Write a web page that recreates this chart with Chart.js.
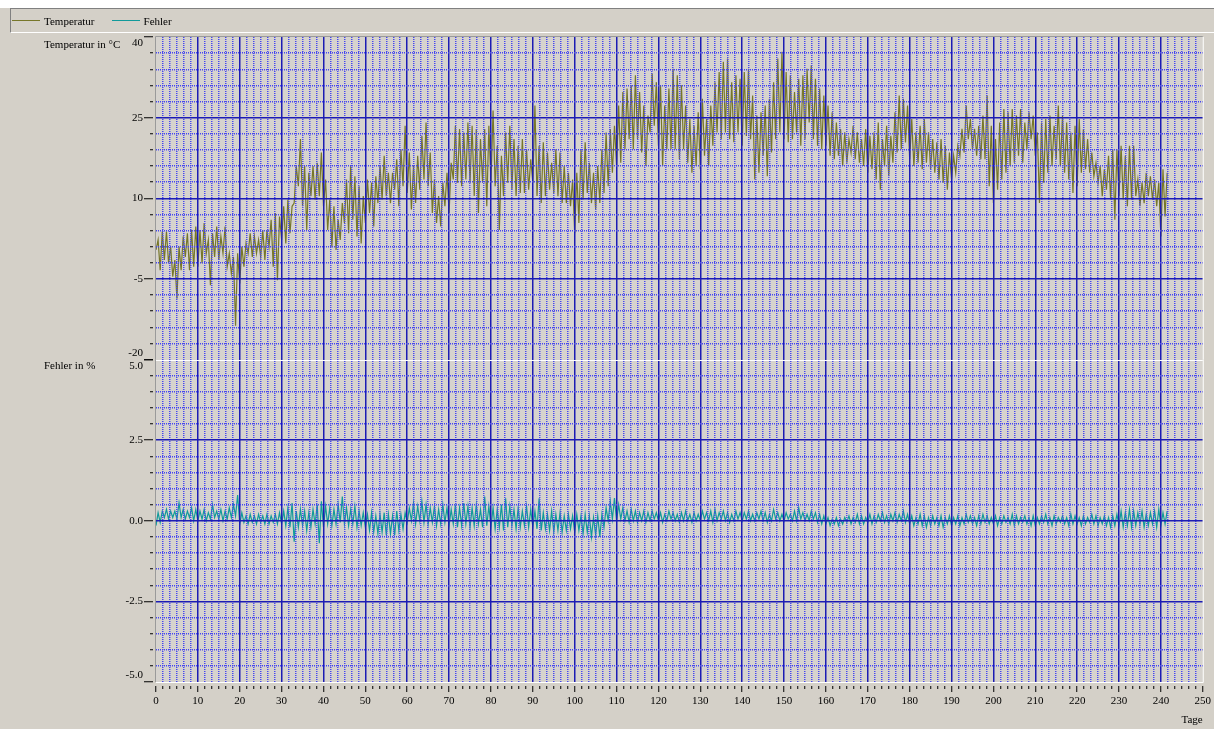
<!DOCTYPE html>
<html>
<head>
<meta charset="utf-8">
<script src="https://cdn.jsdelivr.net/npm/chart.js@4.4.1/dist/chart.umd.min.js"></script>
<style>
  body { margin: 0; background: #d4d0c8; }
  #wrap { position: relative; width: 1214px; height: 729px; overflow: hidden; }
  #c { position: absolute; left: 0; top: 0; }
  #legende {
    position: absolute; left: 10px; top: 8px; width: 1203px; height: 23px;
    border-style: solid; border-width: 1px; border-color: #808080 #ffffff #ffffff #808080;
    font: 11px "Liberation Serif", "Times New Roman", serif; color: #000;
    display: flex; align-items: center;
  }
  .eintrag { display: flex; align-items: center; margin-left: 1px; margin-right: 16px; }
  .strich { width: 28px; height: 1px; margin-right: 4px; }
</style>
</head>
<body>
<div id="wrap">
  <canvas id="c" width="1214" height="729"></canvas>
  <div id="legende"></div>
</div>
<script>
// Tagesgrenzen der Temperatur (Tiefst- und Hoechstwert je Tag), Tage 0..241
var tempTief = [
  0.4, -3.4, -1.5, -2.1, -4.6, -8.7, -3.4, -0.9, -3.4, -2.75,
  -2.75, -2.1, -0.25, -6.2, -0.9, -1.5, -0.25, -2.75, -4.0, -13.7,
  -5.9, -2.75, -0.25, -0.9, -0.25, -0.9, -1.5, 1.0, -2.75, -5.25,
  2.25, 1.6, 3.5, 9.1, 12.25, 8.5, 4.1, 10.4, 9.75, 10.4,
  8.5, 4.1, 1.0, 0.4, 2.25, 5.4, 3.5, 6.0, 2.9, 1.6,
  5.4, 7.25, 4.75, 9.1, 9.75, 10.4, 9.1, 11.6, 8.5, 12.25,
  11.0, 7.9, 9.1, 11.6, 13.5, 12.25, 7.25, 5.4, 4.75, 8.5,
  7.25, 13.5, 12.9, 12.25, 13.5, 12.9, 10.4, 7.25, 12.9, 8.5,
  12.9, 12.25, 4.1, 10.4, 12.9, 11.6, 10.4, 11.0, 11.0, 11.6,
  12.9, 10.4, 9.1, 10.4, 11.6, 11.0, 10.4, 9.1, 9.1, 8.5,
  3.5, 5.4, 9.75, 11.0, 9.1, 7.9, 9.1, 11.0, 12.25, 14.75,
  16.0, 16.6, 19.1, 21.0, 19.1, 21.0, 18.5, 16.0, 22.25, 23.5,
  19.75, 16.0, 19.1, 19.1, 19.1, 17.25, 19.1, 16.6, 14.75, 16.0,
  15.4, 17.9, 16.0, 19.75, 22.25, 21.0, 22.25, 21.0, 20.4, 22.25,
  19.75, 21.6, 21.0, 13.5, 14.75, 17.9, 14.1, 18.5, 21.0, 22.25,
  21.0, 20.4, 21.0, 22.25, 19.75, 21.0, 24.1, 21.0, 19.75, 19.1,
  19.75, 17.9, 17.25, 17.9, 16.0, 16.6, 18.5, 17.25, 16.6, 16.0,
  14.75, 15.4, 13.5, 11.6, 16.0, 14.1, 16.6, 18.5, 19.1, 20.4,
  17.25, 16.0, 16.6, 15.4, 16.6, 15.4, 14.75, 13.5, 12.9, 11.6,
  13.5, 14.75, 17.9, 18.5, 21.0, 19.1, 17.9, 17.25, 17.25, 12.25,
  9.1, 11.6, 13.5, 14.75, 16.0, 16.6, 17.9, 16.6, 19.1, 21.0,
  17.9, 9.1, 12.9, 14.75, 16.0, 17.25, 16.0, 14.75, 13.5, 11.0,
  12.25, 14.75, 15.4, 14.75, 14.1, 12.9, 10.4, 11.6, 9.75, 6.0,
  10.4, 9.75, 8.5, 9.75, 10.4, 8.5, 9.1, 10.4, 9.75, 8.5,
  2.9, 6.6
];
var tempHoch = [
  2.25, 3.8, 3.8, 1.0, -1.5, 1.0, 2.9, 3.5, 4.1, 4.75,
  4.1, 5.4, 2.25, 3.5, 4.75, 2.9, 4.75, -0.25, -0.9, -0.25,
  1.0, 1.6, 3.5, 2.9, 2.25, 4.1, 4.1, 6.0, 7.25, 6.6,
  8.5, 9.75, 8.5, 16.0, 21.0, 16.0, 14.75, 16.0, 16.6, 18.5,
  13.5, 9.75, 8.5, 6.0, 9.1, 13.5, 16.0, 14.1, 12.25, 10.4,
  13.5, 12.9, 14.1, 16.0, 17.9, 14.75, 14.75, 17.25, 19.1, 23.5,
  18.5, 16.0, 17.9, 21.6, 24.1, 18.5, 13.5, 10.4, 12.9, 14.75,
  16.6, 23.5, 22.9, 22.25, 24.1, 23.5, 22.9, 21.0, 22.9, 23.5,
  26.3, 19.75, 17.9, 22.25, 23.5, 21.0, 19.75, 21.0, 19.1, 17.25,
  27.25, 19.75, 20.4, 18.5, 16.6, 19.1, 18.5, 16.0, 14.75, 13.5,
  14.75, 19.1, 20.4, 16.6, 14.75, 16.0, 19.1, 22.25, 22.9, 23.5,
  27.25, 29.75, 30.4, 31.0, 32.9, 29.75, 27.25, 25.4, 33.2, 31.6,
  31.0, 27.25, 30.4, 34.1, 32.9, 31.0, 27.25, 24.75, 23.5, 26.0,
  28.5, 24.75, 27.25, 31.6, 33.5, 35.4, 36.0, 31.6, 32.9, 32.25,
  33.5, 34.1, 29.1, 25.4, 26.0, 27.25, 28.5, 31.6, 36.0, 37.25,
  33.5, 32.9, 29.75, 32.25, 32.9, 34.1, 34.75, 32.25, 30.4, 29.1,
  27.25, 26.0, 24.1, 22.9, 22.25, 21.0, 23.5, 22.25, 21.0, 22.9,
  21.6, 22.25, 24.1, 21.0, 23.5, 21.6, 26.0, 29.1, 28.5, 27.25,
  24.75, 22.25, 23.5, 24.75, 22.25, 21.0, 20.4, 21.0, 19.75, 18.5,
  17.9, 19.75, 22.9, 27.25, 24.75, 22.9, 23.5, 25.4, 29.1, 23.5,
  21.0, 24.1, 26.6, 26.0, 26.6, 25.4, 26.6, 24.1, 26.0, 25.4,
  22.25, 24.1, 24.75, 25.4, 23.5, 27.25, 25.4, 24.1, 22.25, 23.5,
  24.75, 22.9, 21.0, 18.5, 16.6, 16.0, 15.4, 17.9, 19.1, 19.1,
  19.75, 17.9, 19.75, 19.75, 13.5, 12.9, 14.75, 14.1, 13.5, 12.9,
  15.4, 14.75
];
// Fehler in % (Tiefst- und Hoechstwert je Tag, geschaetzt)
var fehlerTief = [
  -0.15, -0.05, 0.1, 0.05, 0.1, 0.05, 0.1, 0.05, 0.1, 0.0,
  0.0, 0.05, 0.0, 0.05, 0.1, 0.05, 0.0, 0.05, 0.1, 0.15,
  -0.1, -0.05, -0.1, -0.05, -0.1, -0.05, -0.1, -0.1, -0.05, -0.1,
  -0.1, -0.15, -0.2, -0.65, -0.2, -0.15, -0.3, -0.2, -0.1, -0.7,
  -0.2, -0.1, -0.15, -0.1, -0.05, -0.1, -0.15, -0.1, -0.2, -0.15,
  -0.2, -0.3, -0.35, -0.4, -0.35, -0.45, -0.4, -0.45, -0.3, -0.25,
  -0.05, 0.0, -0.1, 0.0, -0.05, -0.1, -0.05, -0.15, -0.1, -0.05,
  -0.15, -0.1, -0.2, -0.15, -0.1, -0.2, -0.15, -0.1, -0.2, -0.15,
  -0.2, -0.25, -0.2, -0.3, -0.2, -0.15, -0.25, -0.2, -0.15, -0.2,
  -0.2, -0.25, -0.3, -0.25, -0.3, -0.35, -0.3, -0.35, -0.3, -0.25,
  -0.35, -0.3, -0.4, -0.35, -0.5, -0.45, -0.5, -0.2, 0.0, 0.05,
  0.0, 0.05, 0.0, -0.05, 0.0, -0.05, 0.0, -0.05, 0.0, 0.05,
  0.0, -0.05, 0.0, 0.05, 0.0, -0.05, 0.0, 0.0, -0.05, 0.0,
  0.0, 0.05, 0.0, -0.05, 0.0, 0.05, 0.0, -0.05, 0.0, 0.05,
  0.0, 0.05, 0.0, 0.0, 0.05, 0.0, -0.05, 0.0, 0.05, 0.0,
  0.0, 0.05, 0.0, 0.0, 0.05, 0.0, 0.0, 0.05, -0.05, -0.1,
  -0.1, -0.15, -0.1, -0.15, -0.1, -0.05, -0.1, -0.05, -0.1, -0.1,
  -0.05, -0.1, -0.05, 0.0, -0.05, -0.1, 0.0, -0.05, 0.0, -0.05,
  -0.1, -0.15, -0.1, -0.15, -0.2, -0.15, -0.1, -0.15, -0.2, -0.1,
  -0.15, -0.1, -0.15, -0.1, -0.05, -0.1, -0.15, -0.1, -0.05, -0.1,
  -0.1, -0.15, -0.1, -0.05, -0.1, -0.15, -0.1, -0.05, -0.1, -0.15,
  -0.15, -0.1, -0.05, -0.1, -0.15, -0.1, -0.05, -0.1, -0.15, -0.1,
  -0.1, -0.15, -0.1, -0.05, -0.1, -0.15, -0.1, -0.15, -0.2, -0.15,
  -0.15, -0.2, -0.15, -0.2, -0.15, -0.1, -0.2, -0.15, -0.1, -0.2,
  -0.15, -0.1
];
var fehlerHoch = [
  0.25, 0.3, 0.35, 0.3, 0.3, 0.55, 0.35, 0.3, 0.4, 0.35,
  0.3, 0.35, 0.25, 0.5, 0.3, 0.35, 0.3, 0.4, 0.5, 0.8,
  0.25, 0.15, 0.2, 0.15, 0.2, 0.15, 0.2, 0.15, 0.2, 0.25,
  0.3, 0.4, 0.55, 0.3, 0.35, 0.3, 0.25, 0.35, 0.5, 0.6,
  0.45, 0.4, 0.35, 0.5, 0.75, 0.4, 0.35, 0.45, 0.3, 0.25,
  0.2, 0.25, 0.15, 0.2, 0.25, 0.2, 0.15, 0.3, 0.2, 0.25,
  0.4, 0.55, 0.45, 0.6, 0.5, 0.4, 0.45, 0.35, 0.5, 0.4,
  0.35, 0.5, 0.4, 0.55, 0.45, 0.4, 0.5, 0.35, 0.75, 0.45,
  0.4, 0.35, 0.5, 0.7, 0.45, 0.35, 0.4, 0.3, 0.45, 0.35,
  0.3, 0.7, 0.25, 0.2, 0.3, 0.2, 0.25, 0.15, 0.2, 0.15,
  0.2, 0.15, 0.2, 0.15, 0.1, 0.15, 0.2, 0.4, 0.6, 0.7,
  0.5, 0.4, 0.3, 0.35, 0.3, 0.25, 0.3, 0.25, 0.3, 0.25,
  0.25, 0.2, 0.3, 0.25, 0.2, 0.25, 0.3, 0.2, 0.25, 0.2,
  0.3, 0.25, 0.3, 0.35, 0.25, 0.3, 0.25, 0.2, 0.3, 0.25,
  0.25, 0.3, 0.2, 0.25, 0.3, 0.25, 0.2, 0.35, 0.25, 0.2,
  0.25, 0.2, 0.3, 0.4, 0.25, 0.2, 0.3, 0.25, 0.2, 0.15,
  0.1, 0.05, 0.1, 0.05, 0.1, 0.15, 0.1, 0.2, 0.15, 0.1,
  0.2, 0.15, 0.2, 0.25, 0.15, 0.2, 0.25, 0.2, 0.3, 0.2,
  0.15, 0.1, 0.2, 0.15, 0.1, 0.15, 0.1, 0.15, 0.1, 0.15,
  0.1, 0.15, 0.1, 0.2, 0.15, 0.1, 0.15, 0.2, 0.15, 0.1,
  0.15, 0.1, 0.15, 0.1, 0.2, 0.15, 0.1, 0.15, 0.1, 0.15,
  0.1, 0.15, 0.2, 0.1, 0.15, 0.1, 0.15, 0.1, 0.2, 0.15,
  0.1, 0.15, 0.1, 0.2, 0.15, 0.1, 0.15, 0.1, 0.15, 0.2,
  0.3, 0.25, 0.35, 0.3, 0.25, 0.3, 0.2, 0.25, 0.3, 0.35,
  0.25, 0.3
];

// Achsen: Beschriftungen und Unterteilungen
var tageBeschriftung = [0, 10, 20, 30, 40, 50, 60, 70, 80, 90, 100, 110, 120, 130, 140, 150, 160, 170, 180, 190, 200, 210, 220, 230, 240, 250];
var tageUnterteilung = 6;      // Hilfslinien je 10 Tage
var tempBeschriftung = [-20, -5, 10, 25, 40];
var tempSchritt = 3;
var fehlerBeschriftung = [-5.0, -2.5, 0.0, 2.5, 5.0];
var fehlerSchritt = 0.5;

var farbeTemp = "#77772a";
var farbeFehler = "#129a9a";
var farbeHaupt = "#1c1cb4";
var farbeHilf = "#4646f0";
var hintergrund = "#d4d0c8";

function istBeschriftet(v, liste) {
    return liste.some(function (w) { return Math.abs(w - v) < 1e-6; });
}

function zickzack(tief, hoch) {
    var punkte = [];
    for (var i = 0; i < tief.length; i++) {
        punkte.push({ x: i, y: tief[i] });
        punkte.push({ x: i + 0.5, y: hoch[i] });
    }
    return punkte;
}

// x-Ticks: zwischen den beschrifteten Tagen gleichmaessig unterteilt
var tageTicks = [];
for (var k = 0; k < tageBeschriftung.length - 1; k++) {
    for (var j = 0; j < tageUnterteilung; j++) {
        var a = tageBeschriftung[k], b = tageBeschriftung[k + 1];
        tageTicks.push(a + (b - a) * j / tageUnterteilung);
    }
}
tageTicks.push(tageBeschriftung[tageBeschriftung.length - 1]);

function gitterFarbe(liste) {
    return function (ctx) {
        if (!ctx.tick) return farbeHaupt;
        var v = ctx.tick.value, s = ctx.scale;
        if (Math.abs(v - s.min) < 1e-6 || Math.abs(v - s.max) < 1e-6) return "rgba(0,0,0,0)";
        return istBeschriftet(v, liste) ? farbeHaupt : farbeHilf;
    };
}
function gitterBreite(ctx) {
    return 1.5;
}
function gitterStrich(liste) {
    return function (ctx) {
        if (!ctx.tick) return [];
        return istBeschriftet(ctx.tick.value, liste) ? [] : [1, 1];
    };
}
function yStrich(liste) {
    return function (ctx) {
        return istBeschriftet(ctx.tick.value, liste) ? [9, 100] : [0, 6, 3, 100];
    };
}

Chart.defaults.font.family = "'Liberation Serif', 'Times New Roman', serif";
Chart.defaults.font.size = 11;
Chart.defaults.color = "#000";

// Hintergrund, Rahmen und Achsentitel
var rahmen = {
    id: "rahmen",
    beforeDraw: function (chart) {
        var c = chart.ctx, a = chart.chartArea;
        c.save();
        c.fillStyle = hintergrund;
        c.fillRect(0, 0, chart.width, chart.height);
        c.fillStyle = "#ffffff";
        c.fillRect(0, 0, chart.width, 8);
        c.fillStyle = "#d6d3ce";
        c.fillRect(a.left, a.top, a.right - a.left, a.bottom - a.top);
        c.restore();
    },
    afterDraw: function (chart) {
        var c = chart.ctx, a = chart.chartArea;
        var yT = chart.scales.yT, yF = chart.scales.yF;
        c.save();
        c.lineWidth = 1;
        c.strokeStyle = "#9a9a9a";
        c.beginPath();
        c.moveTo(a.left - 0.5, a.bottom);
        c.lineTo(a.left - 0.5, a.top - 0.5);
        c.lineTo(a.right, a.top - 0.5);
        c.stroke();
        c.strokeStyle = "#ffffff";
        c.beginPath();
        c.moveTo(a.right + 0.5, a.top);
        c.lineTo(a.right + 0.5, a.bottom + 0.5);
        c.lineTo(a.left, a.bottom + 0.5);
        c.moveTo(a.left, Math.round(yT.bottom) + 0.5);
        c.lineTo(a.right, Math.round(yT.bottom) + 0.5);
        c.stroke();
        c.fillStyle = "#000";
        c.font = "11px 'Liberation Serif', 'Times New Roman', serif";
        c.textBaseline = "middle";
        c.textAlign = "left";
        c.fillText("Temperatur in \u00B0C", 44, yT.top + 8);
        c.fillText("Fehler in %", 44, yF.top + 7);
        c.restore();
    }
};

var ctx = document.getElementById("c").getContext("2d");
var chart = new Chart(ctx, {
    type: "line",
    data: {
        datasets: [{
            label: "Temperatur",
            data: zickzack(tempTief, tempHoch),
            yAxisID: "yT",
            borderColor: farbeTemp,
            borderWidth: 1.2,
            pointRadius: 0,
            tension: 0
        }, {
            label: "Fehler",
            data: zickzack(fehlerTief, fehlerHoch),
            yAxisID: "yF",
            borderColor: farbeFehler,
            borderWidth: 1.2,
            pointRadius: 0,
            tension: 0
        }]
    },
    options: {
        responsive: false,
        animation: false,
        layout: { padding: { top: 37, right: 11, left: 0, bottom: 0 } },
        plugins: {
            legend: { display: false },
            tooltip: { enabled: false }
        },
        scales: {
            x: {
                type: "linear",
                min: 0,
                max: 250,
                afterBuildTicks: function (s) {
                    s.ticks = tageTicks.map(function (v) { return { value: v }; });
                },
                afterFit: function (s) { s.height = 47; },
                ticks: {
                    autoSkip: false,
                    maxRotation: 0,
                    padding: 3,
                    callback: function (v) {
                        return istBeschriftet(v, tageBeschriftung) ? String(Math.round(v)) : "";
                    }
                },
                grid: {
                    z: 1,
                    color: gitterFarbe(tageBeschriftung),
                    lineWidth: gitterBreite,
                    tickLength: 10,
                    tickWidth: 1,
                    tickColor: "#000",
                    tickBorderDash: function (c) {
                        return istBeschriftet(c.tick.value, tageBeschriftung) ? [0, 4, 6, 100] : [0, 4, 3, 100];
                    }
                },
                border: { display: false, dash: gitterStrich(tageBeschriftung) },
                title: { display: true, text: "Tage", align: "end", padding: { top: 0, bottom: 2 } }
            },
            yF: {
                type: "linear",
                position: "left",
                stack: "panel",
                stackWeight: 1,
                min: -5,
                max: 5,
                afterFit: function (s) { s.width = 156; },
                ticks: {
                    stepSize: fehlerSchritt,
                    autoSkip: false,
                    padding: 1,
                    callback: function (v) {
                        if (!istBeschriftet(v, fehlerBeschriftung)) return "";
                        var t = v.toFixed(1);
                        if (v === 5) return ["", t];
                        if (v === -5) return [t, ""];
                        return t;
                    }
                },
                grid: {
                    z: 1,
                    color: gitterFarbe(fehlerBeschriftung),
                    lineWidth: gitterBreite,
                    tickLength: 12,
                    tickWidth: 1,
                    tickColor: "#000",
                    tickBorderDash: yStrich(fehlerBeschriftung)
                },
                border: { display: false, dash: gitterStrich(fehlerBeschriftung) }
            },
            yT: {
                type: "linear",
                position: "left",
                stack: "panel",
                stackWeight: 1,
                min: -20,
                max: 40,
                afterFit: function (s) { s.width = 156; },
                ticks: {
                    stepSize: tempSchritt,
                    autoSkip: false,
                    padding: 1,
                    callback: function (v) {
                        if (!istBeschriftet(v, tempBeschriftung)) return "";
                        var t = String(v);
                        if (v === 40) return ["", t];
                        if (v === -20) return [t, ""];
                        return t;
                    }
                },
                grid: {
                    z: 1,
                    color: gitterFarbe(tempBeschriftung),
                    lineWidth: gitterBreite,
                    tickLength: 12,
                    tickWidth: 1,
                    tickColor: "#000",
                    tickBorderDash: yStrich(tempBeschriftung)
                },
                border: { display: false, dash: gitterStrich(tempBeschriftung) }
            }
        }
    },
    plugins: [rahmen]
});

// Legende oben aus den Datensaetzen
var legende = document.getElementById("legende");
chart.data.datasets.forEach(function (ds) {
    var e = document.createElement("span");
    e.className = "eintrag";
    var s = document.createElement("span");
    s.className = "strich";
    s.style.background = ds.borderColor;
    e.appendChild(s);
    e.appendChild(document.createTextNode(ds.label));
    legende.appendChild(e);
});
</script>
</body>
</html>
